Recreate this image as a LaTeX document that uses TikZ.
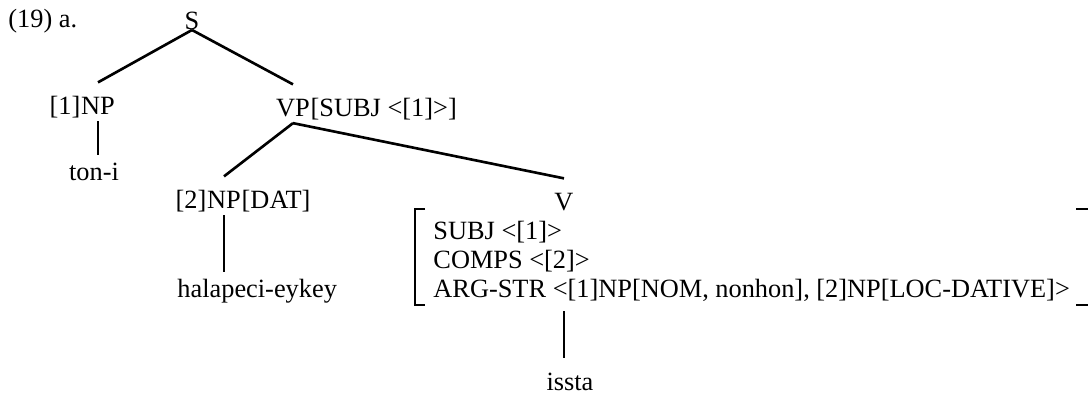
\documentclass[tikz,border=0pt]{standalone}
\usepackage{fontspec}
\setmainfont{Liberation Serif}
\usetikzlibrary{positioning}

\begin{document}
\begin{tikzpicture}[x=0.016cm, y=-0.016cm,
        n/.style={inner sep=0pt, text height=8.4pt, text depth=2.6pt, font=\fontsize{12}{13}\selectfont},
        e/.style={line width=1.2pt},
        b/.style={line width=0.8pt}]
        \useasboundingbox (0,0) rectangle (1088,397);
        \clip (0,0) rectangle (1088,397);

        \draw node[n, anchor=base west] (ex) at (8,28) {(19) a.};
        \draw node[n, anchor=base] (s) at (192,30) {S};

        \draw node[n, anchor=base] (np1) at (98,115) {NP} node[n, left=0 of np1] (np1i) {[1]};
        \draw node[n, anchor=base] (toni) at (94,181) {ton-i};

        \draw node[n, anchor=base] (vp) at (293,117) {VP} node[n, right=0 of vp] (vpf) {[SUBJ <[1]>]};

        \draw node[n, anchor=base] (np2) at (224,209) {NP} node[n, left=0 of np2] (np2i) {[2]}
              node[n, right=0 of np2] (np2f) {[DAT]};
        \draw node[n, anchor=base west] (hal) at (177,298) {halapeci-eykey};

        \draw node[n, anchor=base] (v) at (564,211) {V};
        \foreach \y/\nm/\txt in {240/subj/{SUBJ <[1]>}, 269/comps/{COMPS <[2]>},
                298/argstr/{ARG-STR <[1]NP[NOM, nonhon], [2]NP[LOC-DATIVE]>}}
        \draw node[n, anchor=base west] (\nm) at (433,\y) {\txt};
        \draw node[n, anchor=base] (issta) at (570,391) {issta};

        % brackets round the V features
        \draw[b] (425,209) -| (415,305) -- (425,305);
        \draw[b] (1076,209) -| (1092,305) -- (1076,305);

        \draw[e] (s.base) -- ([yshift=0.22cm]np1.north);
        \draw[e] (s.base) -- ([yshift=0.22cm]vp.north);
        \draw[e] (np1.south) -- ([yshift=0.12cm]np1.south |- toni.north);
        \draw[e] (vp.south) -- ([yshift=0.22cm]np2.north);
        \draw[e] (vp.south) -- ([yshift=0.22cm]v.north);
        \draw[e] (np2.south) -- ([yshift=0.12cm]np2.south |- hal.north);
        \draw[e] ([yshift=-0.11cm]v |- argstr.south) -- ([yshift=0.22cm]v |- issta.north);
\end{tikzpicture}
\end{document}
